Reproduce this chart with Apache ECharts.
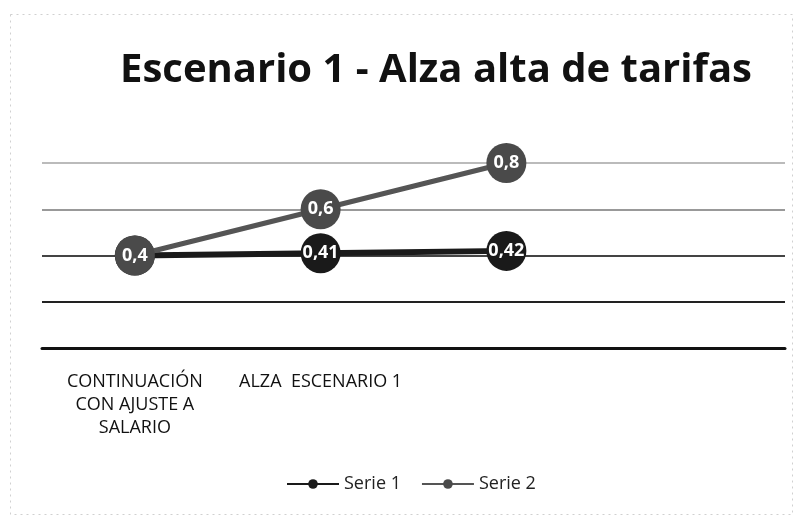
<!DOCTYPE html>
<html><head><meta charset="utf-8">
<script src="https://cdn.jsdelivr.net/npm/echarts@6/dist/echarts.min.js"></script>
<style>html,body{margin:0;padding:0;background:#fff}#c{width:799px;height:515px}</style>
</head><body><div id="c"></div>
<script>
const categories = ['CONTINUACIÓN\nCON AJUSTE A\nSALARIO', 'ALZA  ESCENARIO 1', ' ', '  '];
const serie1 = [0.4, 0.41, 0.42, null];
const serie2 = [0.4, 0.6, 0.8, null];
const seriesNames = ['Serie 1', 'Serie 2'];
const titleText = 'Escenario 1 - Alza alta de tarifas';

const chart = echarts.init(document.getElementById('c'), null, {renderer: 'canvas'});
const fmt = p => String(p.value).replace('.', ',');
chart.setOption({
  backgroundColor: '#fff',
  animation: false,
  graphic: [{
    type: 'rect', left: 8, top: 12, shape: {width: 782, height: 500},
    style: {fill: 'none', stroke: '#d0d0d0', lineWidth: 1, lineDash: [2, 4]}, silent: true
  }],
  title: {
    text: titleText, left: 431, top: 46, textAlign: 'center',
    textStyle: {fontFamily: 'Open Sans', fontWeight: 'bold', fontSize: 40, color: '#111'}
  },
  legend: {
    data: seriesNames, bottom: 17, left: 281, itemWidth: 52, itemHeight: 12, itemGap: 20,
    textStyle: {fontFamily: 'Open Sans', fontSize: 18, color: '#222'}
  },
  grid: {left: 42, right: 14, top: 163, bottom: 167, containLabel: false},
  xAxis: {
    type: 'category', data: categories, boundaryGap: true,
    axisLine: {lineStyle: {color: '#111', width: 3}},
    axisTick: {show: false},
    axisLabel: {interval: 0, margin: 22, fontFamily: 'Open Sans', fontSize: 18, color: '#111', lineHeight: 23}
  },
  yAxis: {
    type: 'value', min: 0, max: 0.8, interval: 0.2,
    axisLabel: {show: false}, axisLine: {show: false}, axisTick: {show: false},
    splitLine: {lineStyle: {color: ['#111', '#222', '#444', '#999', '#bbb'], width: 2}}
  },
  series: [
    {
      name: seriesNames[0], type: 'line', data: serie1, symbol: 'circle', symbolSize: 40,
      lineStyle: {color: '#1a1a1a', width: 6}, itemStyle: {color: '#1a1a1a'},
      label: {show: true, position: 'inside', formatter: fmt, color: '#fff', fontWeight: 'bold', fontSize: 18, fontFamily: 'Open Sans'},
      z: 2
    },
    {
      name: seriesNames[1], type: 'line', data: serie2, symbol: 'circle', symbolSize: 40,
      lineStyle: {color: '#555', width: 5}, itemStyle: {color: '#4a4a4a'},
      label: {show: true, position: 'inside', formatter: fmt, color: '#fff', fontWeight: 'bold', fontSize: 18, fontFamily: 'Open Sans'},
      z: 3
    }
  ]
});
</script></body></html>
